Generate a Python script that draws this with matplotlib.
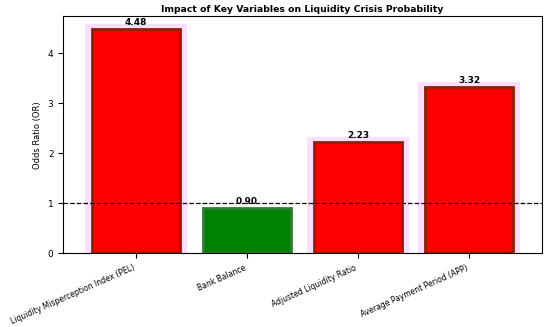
import matplotlib
matplotlib.use("Agg")
import matplotlib.pyplot as plt

categories = ["Liquidity Misperception Index (PEL)", "Bank Balance",
              "Adjusted Liquidity Ratio", "Average Payment Period (APP)"]
odds_ratios = [4.48, 0.90, 2.23, 3.32]
value_labels = ["4.48", "0.90", "2.23", "3.32"]

colors = ["red" if v > 1 else "green" for v in odds_ratios]
edges = ["#8B2200" if v > 1 else "#2e7d2e" for v in odds_ratios]

fig, ax = plt.subplots(figsize=(5.5, 3.27), dpi=100)
x = list(range(len(categories)))
# faint halo behind the risk bars
for xi, v in zip(x, odds_ratios):
    if v > 1:
        ax.bar(xi, v + 0.1, width=0.92, color="#ff66ff", alpha=0.22,
               linewidth=0, zorder=1)
bars = ax.bar(x, odds_ratios, width=0.8, color=colors, edgecolor=edges,
              linewidth=2.0, zorder=2)
ax.axhline(1, color="black", linestyle="--", linewidth=0.9, zorder=3)
for b, lab in zip(bars, value_labels):
    ax.text(b.get_x() + b.get_width() / 2, b.get_height() + 0.04, lab,
            ha="center", va="bottom", fontsize=6.5, fontweight="bold")
ax.set_xticks(x)
ax.set_xticklabels(categories, rotation=24, ha="right", fontsize=5.5)
ax.tick_params(axis="y", labelsize=6.5)
ax.set_ylabel("Odds Ratio (OR)", fontsize=6)
ax.set_title("Impact of Key Variables on Liquidity Crisis Probability",
             fontsize=6.7, fontweight="bold", pad=3)
ax.set_ylim(0, 4.74)
fig.subplots_adjust(left=0.115, right=0.985, top=0.95, bottom=0.225)
fig.savefig("out.png", dpi=100)
